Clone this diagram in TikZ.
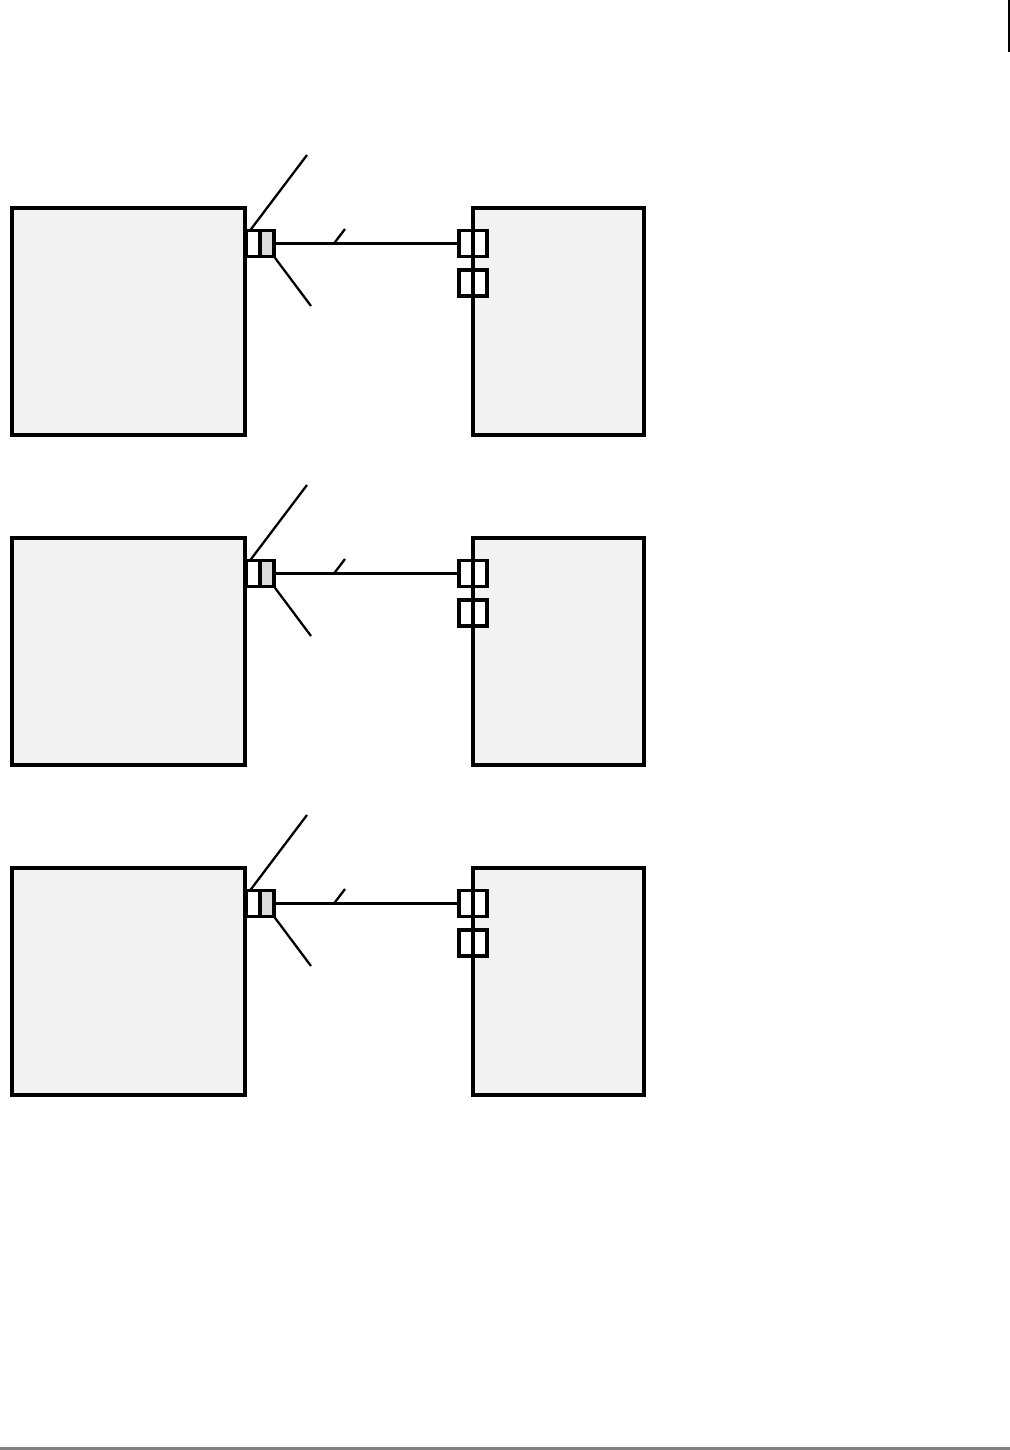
\documentclass[tikz,border=0pt]{standalone}
\begin{document}
\begin{tikzpicture}[x=0.02cm, y=-0.02cm]
	\tikzset{
		unitbox/.style={rectangle, draw=black, fill=gray!10, line width=1.9pt, inner sep=0pt, outer sep=0pt},
		leader/.style={line width=1.3pt},
		link/.style={line width=1.9pt}
	}
	\useasboundingbox (0,0) rectangle (1010,1450);
	\draw[line width=1.1pt] (1009,0) -- (1009,52);
	\draw[gray, line width=1.2pt] (0,1448.5) -- (1010,1448.5);
	\foreach \i/\dy in {1/0, 2/330, 3/660} {
		% the two units
		\node[unitbox, minimum width=233*0.02cm, minimum height=227*0.02cm] (lbox\i) at (128.5,321.5+\dy) {};
		\node[unitbox, minimum width=171*0.02cm, minimum height=227*0.02cm] (rbox\i) at (558.5,321.5+\dy) {};
		% ports
		\node[unitbox, fill=white, minimum width=14*0.02cm, minimum height=26*0.02cm] (lpa\i) at (253,243.5+\dy) {};
		\node[unitbox, fill=gray!28, minimum width=14*0.02cm, minimum height=26*0.02cm] (lpb\i) at (267,243.5+\dy) {};
		\node[unitbox, fill=white, minimum width=28*0.02cm, minimum height=26*0.02cm] (rpa\i) at (473,243.5+\dy) {};
		\node[unitbox, fill=white, minimum width=28*0.02cm, minimum height=26*0.02cm] (rpb\i) at (473,283+\dy) {};
		\draw[line width=1.9pt] (rbox\i.north west) -- (rbox\i.south west);
		% connection
		\draw[link] (lpb\i.east) -- (rpa\i.west);
		\coordinate (tka\i) at (334,243.5+\dy);
		\coordinate (tkb\i) at (345,229+\dy);
		\draw[leader] (tka\i) -- (tkb\i);
		% leaders
		\coordinate (up\i) at (307,155+\dy);
		\coordinate (dn\i) at (311,306+\dy);
		\draw[leader] ([xshift=0.08cm]lpa\i.north west) -- (up\i);
		\draw[leader] (lpb\i.south east) -- (dn\i);
	}
\end{tikzpicture}
\end{document}
